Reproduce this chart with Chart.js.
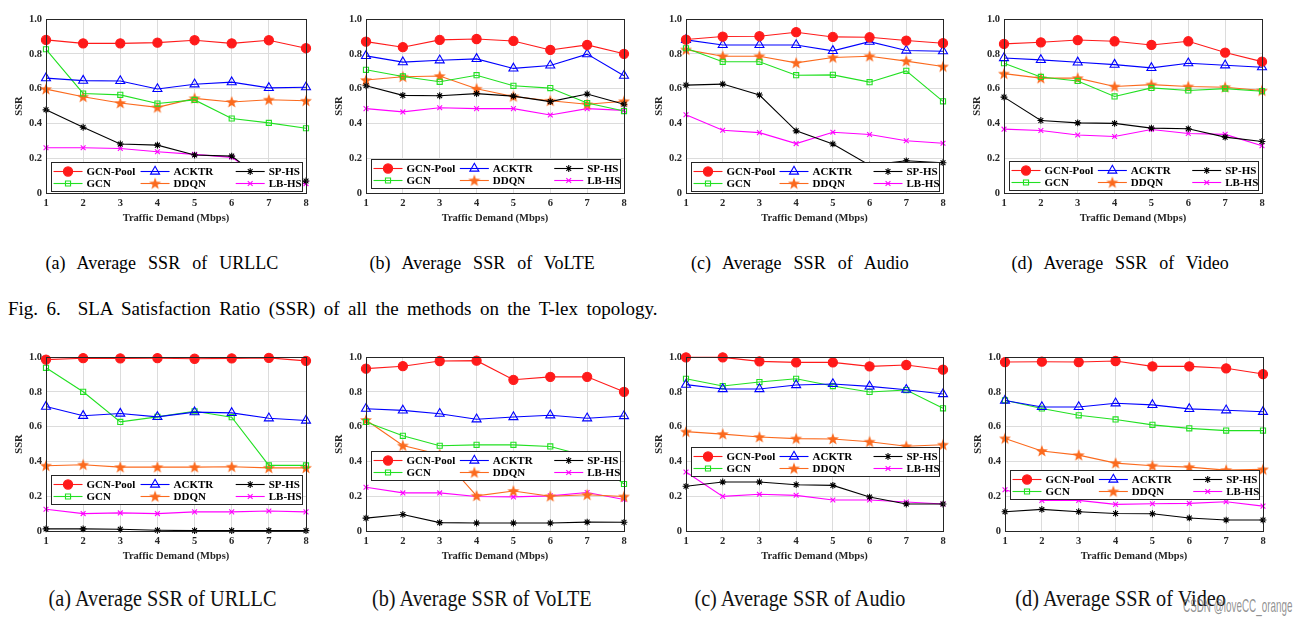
<!DOCTYPE html>
<html>
<head>
<meta charset="utf-8">
<script src="https://cdn.jsdelivr.net/npm/chart.js@4.4.1/dist/chart.umd.min.js"></script>
<style>
  body { margin: 0; background: #fff; width: 1310px; height: 625px; position: relative; overflow: hidden; font-family: "Liberation Serif", "Times New Roman", serif; }
  .panel { position: absolute; }
  .cap { position: absolute; font-size: 18px; line-height: 18px; white-space: pre; color: #000; word-spacing: 7.5px; }
  .cap2 { position: absolute; font-size: 23px; line-height: 23px; white-space: pre; color: #111; transform: scaleX(0.88); }
  .fig { position: absolute; left: 8px; top: 299px; font-size: 19px; line-height: 19px; white-space: pre; word-spacing: 3.7px; }
  .mark { position: absolute; left: 1183px; top: 595px; font-family: "Liberation Sans", sans-serif; font-size: 19px; color: rgba(110,110,110,0.75); white-space: pre; transform: scaleX(0.52); transform-origin: 0 50%; }
</style>
</head>
<body>
<canvas id="c1" class="panel"></canvas>
<canvas id="c2" class="panel"></canvas>
<canvas id="c3" class="panel"></canvas>
<canvas id="c4" class="panel"></canvas>
<canvas id="c5" class="panel"></canvas>
<canvas id="c6" class="panel"></canvas>
<canvas id="c7" class="panel"></canvas>
<canvas id="c8" class="panel"></canvas>

<div class="cap" id="t1">(a) Average SSR of URLLC</div>
<div class="cap" id="t2">(b) Average SSR of VoLTE</div>
<div class="cap" id="t3">(c) Average SSR of Audio</div>
<div class="cap" id="t4">(d) Average SSR of Video</div>
<div class="fig">Fig. 6.  SLA Satisfaction Ratio (SSR) of all the methods on the T-lex topology.</div>
<div class="cap2" id="b1">(a) Average SSR of URLLC</div>
<div class="cap2" id="b2">(b) Average SSR of VoLTE</div>
<div class="cap2" id="b3">(c) Average SSR of Audio</div>
<div class="cap2" id="b4">(d) Average SSR of Video</div>
<div class="mark">CSDN @loveCC_orange</div>

<script>
const demand = ["1", "2", "3", "4", "5", "6", "7", "8"];
const methods = ["GCN-Pool", "ACKTR", "SP-HS", "GCN", "DDQN", "LB-HS"];
const yTicks = [0, 0.2, 0.4, 0.6, 0.8, 1];

// rows follow the order of methods
// Fig. 6, T-lex topology
const urllcTlex = [
  [0.88, 0.86, 0.86, 0.864, 0.878, 0.86, 0.878, 0.832],
  [0.66, 0.646, 0.644, 0.598, 0.625, 0.637, 0.604, 0.608],
  [0.478, 0.378, 0.282, 0.275, 0.218, 0.212, 0.05, 0.069],
  [0.826, 0.572, 0.564, 0.514, 0.535, 0.428, 0.403, 0.372],
  [0.597, 0.553, 0.517, 0.492, 0.544, 0.523, 0.536, 0.53],
  [0.26, 0.26, 0.256, 0.237, 0.222, 0.205, 0.06, 0.054]
];
const volteTlex = [
  [0.87, 0.838, 0.88, 0.885, 0.874, 0.822, 0.851, 0.80],
  [0.788, 0.752, 0.763, 0.771, 0.716, 0.733, 0.798, 0.674],
  [0.616, 0.561, 0.559, 0.571, 0.557, 0.525, 0.569, 0.51],
  [0.708, 0.67, 0.639, 0.677, 0.616, 0.603, 0.517, 0.471],
  [0.649, 0.668, 0.672, 0.599, 0.555, 0.53, 0.51, 0.527],
  [0.485, 0.466, 0.49, 0.485, 0.485, 0.448, 0.485, 0.475]
];
const audioTlex = [
  [0.882, 0.899, 0.901, 0.924, 0.897, 0.895, 0.876, 0.861],
  [0.88, 0.851, 0.851, 0.851, 0.817, 0.87, 0.819, 0.815],
  [0.62, 0.626, 0.563, 0.357, 0.282, 0.16, 0.185, 0.174],
  [0.832, 0.754, 0.754, 0.677, 0.679, 0.637, 0.702, 0.527],
  [0.824, 0.786, 0.786, 0.748, 0.779, 0.786, 0.758, 0.727],
  [0.45, 0.361, 0.347, 0.284, 0.349, 0.336, 0.3, 0.286]
];
const videoTlex = [
  [0.857, 0.866, 0.879, 0.872, 0.851, 0.872, 0.807, 0.755],
  [0.776, 0.765, 0.751, 0.738, 0.719, 0.746, 0.734, 0.723],
  [0.551, 0.417, 0.403, 0.4, 0.373, 0.369, 0.321, 0.296],
  [0.746, 0.667, 0.644, 0.555, 0.604, 0.589, 0.6, 0.585],
  [0.686, 0.66, 0.66, 0.612, 0.623, 0.612, 0.608, 0.589],
  [0.367, 0.359, 0.333, 0.325, 0.365, 0.342, 0.337, 0.272]
];
// second topology (bottom row)
const urllcB = [
  [0.985, 0.993, 0.992, 0.993, 0.99, 0.992, 0.995, 0.978],
  [0.715, 0.662, 0.675, 0.656, 0.683, 0.679, 0.648, 0.635],
  [0.012, 0.012, 0.01, 0.004, 0.002, 0.002, 0.002, 0.002],
  [0.938, 0.8, 0.627, 0.656, 0.688, 0.654, 0.377, 0.377],
  [0.375, 0.381, 0.367, 0.367, 0.367, 0.369, 0.363, 0.363],
  [0.125, 0.1, 0.104, 0.1, 0.11, 0.11, 0.115, 0.11]
];
const volteB = [
  [0.933, 0.947, 0.977, 0.979, 0.869, 0.886, 0.886, 0.8],
  [0.703, 0.693, 0.674, 0.642, 0.655, 0.665, 0.648, 0.661],
  [0.074, 0.095, 0.048, 0.046, 0.046, 0.046, 0.051, 0.05],
  [0.627, 0.547, 0.49, 0.495, 0.495, 0.486, 0.43, 0.27],
  [0.638, 0.491, 0.44, 0.202, 0.23, 0.2, 0.208, 0.198],
  [0.251, 0.219, 0.219, 0.198, 0.196, 0.202, 0.221, 0.181]
];
const audioB = [
  [0.998, 0.998, 0.975, 0.969, 0.969, 0.946, 0.954, 0.927],
  [0.841, 0.816, 0.816, 0.839, 0.845, 0.831, 0.812, 0.787],
  [0.257, 0.282, 0.282, 0.266, 0.262, 0.195, 0.155, 0.155],
  [0.875, 0.833, 0.856, 0.875, 0.833, 0.799, 0.81, 0.705],
  [0.571, 0.557, 0.54, 0.531, 0.529, 0.513, 0.487, 0.496],
  [0.339, 0.199, 0.211, 0.205, 0.178, 0.178, 0.167, 0.155]
];
const videoB = [
  [0.971, 0.973, 0.971, 0.977, 0.946, 0.946, 0.935, 0.902],
  [0.75, 0.713, 0.713, 0.734, 0.725, 0.702, 0.694, 0.685],
  [0.111, 0.124, 0.111, 0.101, 0.099, 0.075, 0.063, 0.063],
  [0.751, 0.704, 0.665, 0.641, 0.61, 0.59, 0.577, 0.577],
  [0.532, 0.46, 0.436, 0.39, 0.375, 0.367, 0.35, 0.354],
  [0.237, 0.176, 0.176, 0.153, 0.157, 0.159, 0.168, 0.143]
];

// filled five-point star for DDQN
function starImage(color) {
  const c = document.createElement("canvas");
  c.width = 14; c.height = 14;
  const g = c.getContext("2d");
  g.beginPath();
  for (let k = 0; k < 10; k++) {
    const r = k % 2 === 0 ? 6.3 : 2.6;
    const a = -Math.PI / 2 + k * Math.PI / 5;
    g.lineTo(7 + r * Math.cos(a), 7.4 + r * Math.sin(a));
  }
  g.closePath();
  g.fillStyle = color;
  g.fill();
  return c;
}

const looks = [
  { color: "#ff1a1a", fill: "#ff1a1a", style: "circle", r: 4.6 },
  { color: "#0000ff", fill: "rgba(0,0,0,0)", style: "triangle", r: 5.2 },
  { color: "#000000", fill: "#000000", style: "star", r: 3.4 },
  { color: "#22e022", fill: "rgba(0,0,0,0)", style: "rect", r: 3.6 },
  { color: "#fb6a1e", fill: "#fb6a1e", style: starImage("#fb6a1e"), r: 6 },
  { color: "#ff00ff", fill: "#ff00ff", style: "crossRot", r: 3.4 }
];

// panel placement: canvas left/top, plot width, legend box top (in SSR units)
const panels = [
  { id: "c1", rows: urllcTlex, left: 0, top: 0, w: 260, legendAt: 0.178 },
  { id: "c2", rows: volteTlex, left: 320, top: 0, w: 258, legendAt: 0.195 },
  { id: "c3", rows: audioTlex, left: 640, top: 0, w: 257, legendAt: 0.178 },
  { id: "c4", rows: videoTlex, left: 958, top: 0, w: 258, legendAt: 0.184 },
  { id: "c5", rows: urllcB, left: 0, top: 338, w: 260, legendAt: 0.322 },
  { id: "c6", rows: volteB, left: 320, top: 338, w: 258, legendAt: 0.457 },
  { id: "c7", rows: audioB, left: 640, top: 338, w: 257, legendAt: 0.483 },
  { id: "c8", rows: videoB, left: 959, top: 338, w: 258, legendAt: 0.35 }
];

const frame = {
  id: "frame",
  afterDatasetsDraw(chart) {
    const { ctx, chartArea: a } = chart;
    ctx.save();
    ctx.strokeStyle = "#262626";
    ctx.lineWidth = 1;
    ctx.strokeRect(Math.round(a.left) + 0.5, Math.round(a.top) + 0.5, Math.round(a.right - a.left), Math.round(a.bottom - a.top));
    ctx.restore();
  }
};

const boxLegend = {
  id: "boxLegend",
  afterDraw(chart, args, opts) {
    const { ctx, chartArea: a } = chart;
    const y = chart.scales.y;
    const x0 = Math.round(a.left) + 5.5;
    const w = Math.round(a.right - a.left) - 9;
    const y0 = Math.round(y.getPixelForValue(opts.top)) + 0.5;
    const colX = [2, 88, 182];
    ctx.save();
    ctx.fillStyle = "#fff";
    ctx.fillRect(x0, y0, w, 29);
    ctx.strokeStyle = "#262626";
    ctx.lineWidth = 1;
    ctx.strokeRect(x0, y0, w, 29);
    chart.data.datasets.forEach((ds, i) => {
      const lx = x0 + colX[i % 3] * w / 248;
      const ly = y0 + 9 + Math.floor(i / 3) * 12;
      ctx.strokeStyle = ds.borderColor;
      ctx.lineWidth = ds.borderWidth;
      ctx.beginPath();
      ctx.moveTo(lx, ly);
      ctx.lineTo(lx + 29, ly);
      ctx.stroke();
      ctx.fillStyle = ds.pointBackgroundColor;
      ctx.lineWidth = ds.pointBorderWidth;
      Chart.helpers.drawPoint(ctx, { pointStyle: ds.pointStyle, rotation: 0, radius: ds.pointRadius, borderWidth: ds.pointBorderWidth }, lx + 14.5, ly);
      ctx.fillStyle = "#000";
      ctx.font = 'bold 11px "Liberation Serif"';
      ctx.textBaseline = "middle";
      ctx.textAlign = "left";
      ctx.fillText(ds.label, lx + 33, ly + 0.5);
    });
    ctx.restore();
  }
};

Chart.defaults.font.family = '"Liberation Serif", "Times New Roman", serif';
Chart.defaults.color = "#262626";

panels.forEach((p) => {
  const cv = document.getElementById(p.id);
  cv.width = 46 + p.w + 12;
  cv.height = 230;
  cv.style.left = p.left + "px";
  cv.style.top = p.top + "px";

  const datasets = p.rows.map((vals, i) => ({
    label: methods[i],
    data: vals,
    borderColor: looks[i].color,
    backgroundColor: looks[i].fill,
    pointBackgroundColor: looks[i].fill,
    pointBorderColor: looks[i].color,
    pointStyle: looks[i].style,
    pointRadius: looks[i].r,
    pointBorderWidth: 1.1,
    borderWidth: 1.1,
    tension: 0,
    fill: false,
    clip: false
  }));

  new Chart(cv, {
    type: "line",
    data: { labels: demand, datasets: datasets },
    options: {
      responsive: false,
      animation: false,
      devicePixelRatio: 1,
      layout: { padding: { top: 19, right: 12, left: 0, bottom: 0 } },
      plugins: {
        legend: { display: false },
        tooltip: { enabled: false },
        boxLegend: { top: p.legendAt }
      },
      scales: {
        x: {
          offset: false,
          grid: { color: "#dcdcdc", drawTicks: false },
          border: { color: "#262626" },
          ticks: { padding: 4, font: { size: 10.5, weight: "bold" } },
          title: { display: true, text: "Traffic Demand (Mbps)", padding: { top: 0, bottom: 5 }, font: { size: 10.5, weight: "bold" } },
          afterFit: (s) => { s.height = 37; }
        },
        y: {
          min: 0,
          max: 1,
          grid: { color: "#dcdcdc", drawTicks: false },
          border: { color: "#262626" },
          afterBuildTicks: (s) => { s.ticks = yTicks.map((v) => ({ value: v })); },
          ticks: { padding: 4, font: { size: 10.5, weight: "bold" } },
          title: { display: true, text: "SSR", padding: { top: 13, bottom: 0 }, font: { size: 10.5, weight: "bold" } },
          afterFit: (s) => { s.width = 46; }
        }
      }
    },
    plugins: [frame, boxLegend]
  });
});

// captions centred under each panel
const capCentres = [162, 482, 800, 1120];
capCentres.forEach((cx, i) => {
  const t = document.getElementById("t" + (i + 1));
  t.style.left = (cx - t.offsetWidth / 2) + "px";
  t.style.top = "254px";
  const b = document.getElementById("b" + (i + 1));
  b.style.left = (cx - b.offsetWidth / 2) + "px";
  b.style.top = "587px";
});
</script>
</body>
</html>
